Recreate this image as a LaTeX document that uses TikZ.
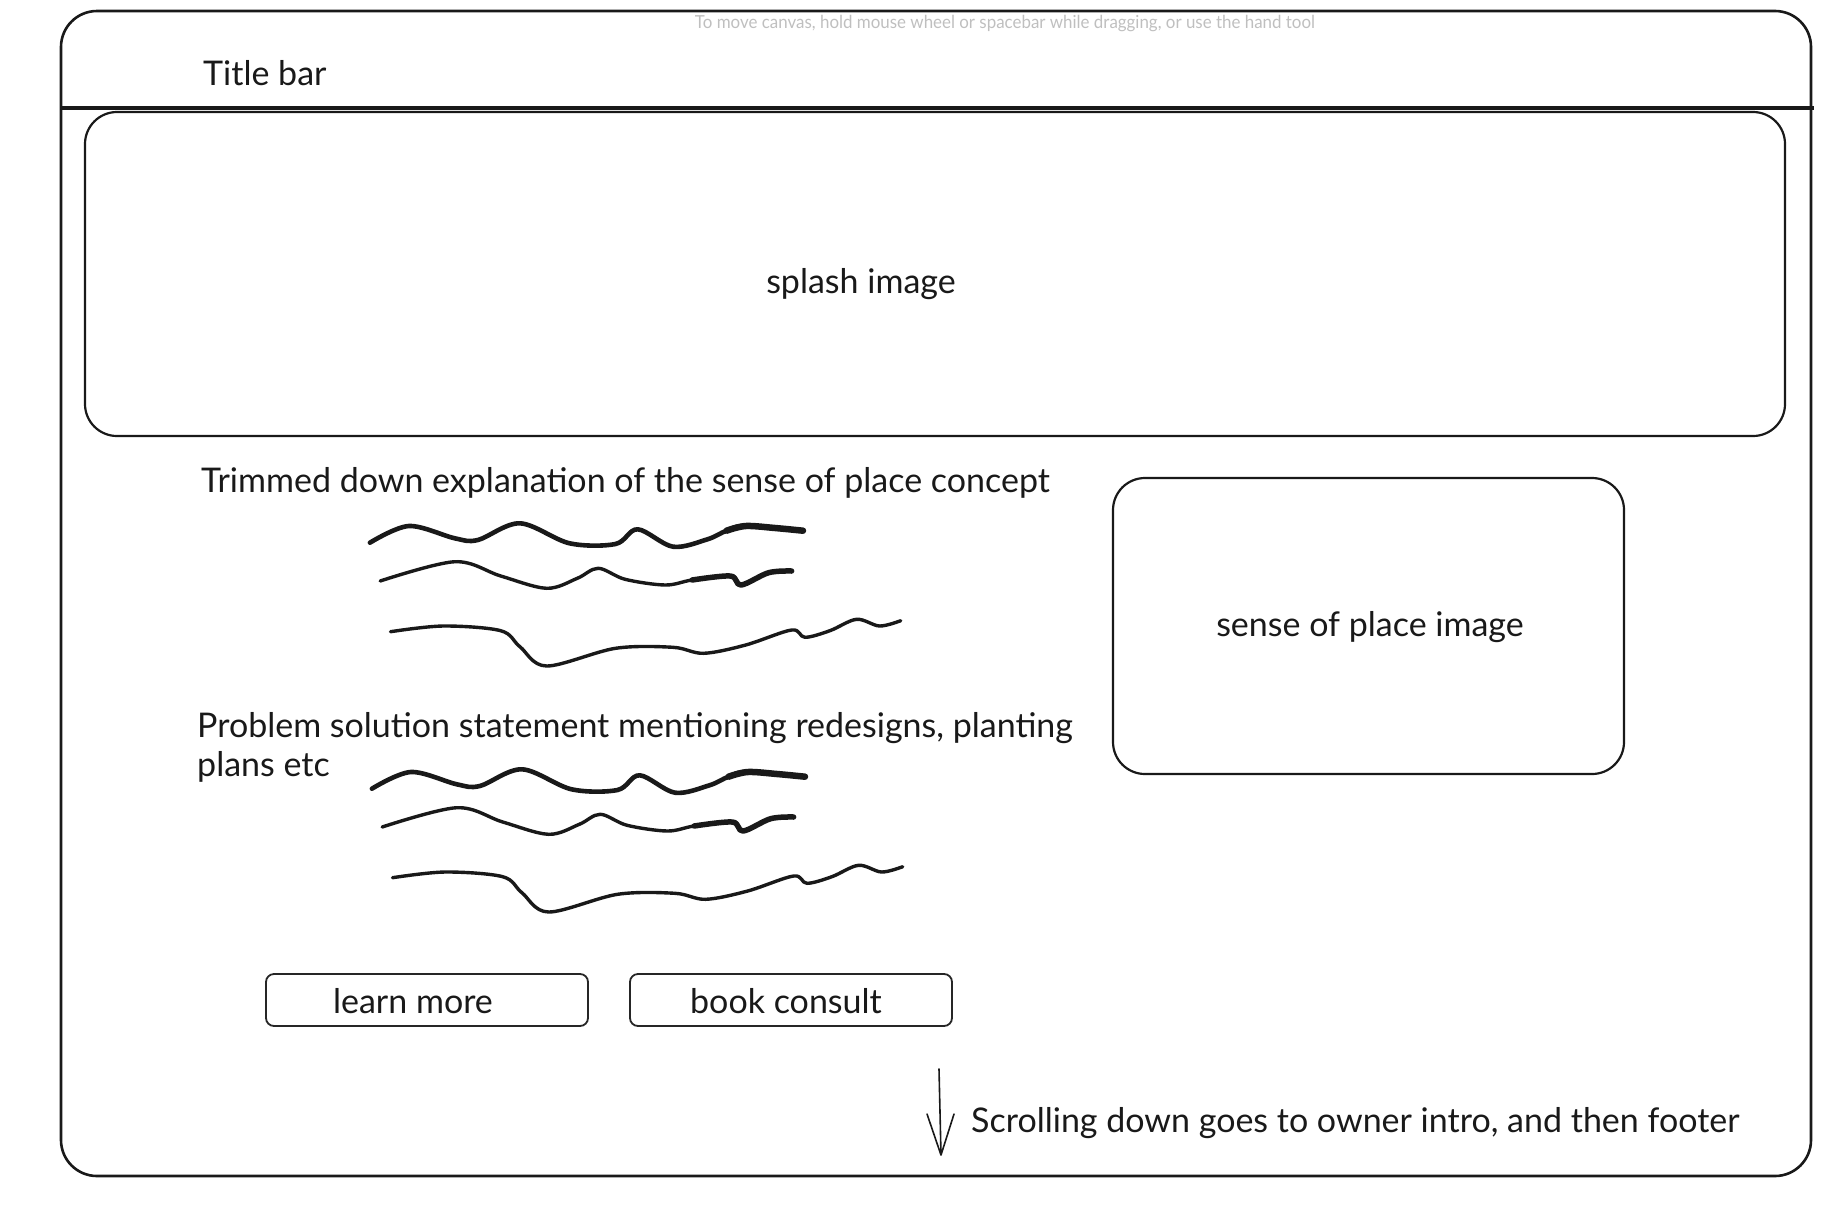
\documentclass[tikz,border=0pt]{standalone}
\usepackage{fontspec}
\setmainfont{Lato}
\usetikzlibrary{arrows.meta}
\begin{document}
\begin{tikzpicture}[x=1pt,y=-1pt,
  frame/.style={draw=black!90, line width=2.6pt, rounded corners=36pt},
  panel/.style={draw=black!90, line width=2.2pt, rounded corners=32pt},
  btn/.style={draw=black!85, line width=1.8pt, rounded corners=8pt},
  hand/.style={font=\fontsize{34}{39}\selectfont, text=black!90, inner sep=0pt},
  scribble/.style={line width=#1, line cap=round, line join=round, black!90},
  hint/.style={font=\fontsize{18}{20}\selectfont, text=black!25, inner sep=0pt}]

% page extent
\useasboundingbox (0,0) rectangle (1847,1205);

% window frame and title bar
\draw[frame] (61,11) rectangle (1811,1176);
\draw[line width=3.4pt, black!90] (61,108) -- (1814,108);
\node[hint] (hint) at (1005,24) {\scalebox{0.94}[1]{To move canvas, hold mouse wheel or spacebar while dragging, or use the hand tool}};
\node[hand, anchor=west] (title) at (203,73) {Title bar};

% splash image
\draw[panel] (85,112) rectangle (1785,436);
\node[hand] (splash) at (861,284) {splash image};

% concept explanation
\node[hand, anchor=west] (concept) at (201,483) {Trimmed down explanation of the sense of place concept};

\newcommand{\scribbleblock}{%
  \draw[scribble=4.6pt] plot[smooth, tension=0.55] coordinates {
    (369.9,542.7) (408.9,526) (454.8,538.3) (477.8,540) (519.9,523.3)
    (569.6,543.3) (615.5,544) (637.7,529.3) (673,546.7) (707.4,539.3)
    (726.5,530.7) (745.7,526) (803,530.7)};
  \draw[scribble=6.5pt] plot[smooth, tension=0.55] coordinates {
    (726.5,530.7) (745.7,526) (775,528) (803,530.7)};
  \draw[scribble=3.4pt] plot[smooth, tension=0.55] coordinates {
    (380.2,581) (454.8,561.7) (500.7,576) (546.7,588.3) (577.3,578.3)
    (598.3,568.3) (625.1,579.3) (665.3,585) (692.1,580) (730.4,576)
    (741.1,585) (768.6,572.7) (791.6,571)};
  \draw[scribble=5.5pt] plot[smooth, tension=0.55] coordinates {
    (692.1,580) (730.4,576) (741.1,585) (768.6,572.7) (791.6,571)};
  \draw[scribble=3.4pt] plot[smooth, tension=0.55] coordinates {
    (390.5,631.7) (443.3,626) (500.7,630.7) (519.9,646.7) (546.7,666)
    (615.5,648.3) (673,647.3) (703.6,653.3) (745.7,645) (791.6,630)
    (805,637.3) (829.9,630.7) (856.6,619.3) (879.6,626) (900.7,620.7)};
}
\scribbleblock

% problem / solution statement
\node[hand, anchor=west, align=left] (problem) at (197,747.5)
  {Problem solution statement mentioning redesigns, planting\\plans etc};
\begin{scope}[shift={(2,246)}]
  \scribbleblock
\end{scope}

% sense of place image
\draw[panel] (1113,478) rectangle (1624,774);
\node[hand] (sense) at (1370,627) {sense of place image};

% call-to-action buttons
\node[btn, minimum width=322pt, minimum height=52pt, inner sep=0pt] (learn) at (427,1000) {};
\node[hand] at (413,1001) {learn more};
\node[btn, minimum width=322pt, minimum height=52pt, inner sep=0pt] (book) at (791,1000) {};
\node[hand] at (786,1001) {book consult};

% scroll hint
\coordinate (atop) at (939,1069);
\coordinate (atip) at (941,1155);
\draw[line width=1.6pt, black!90, line cap=round, line join=round]
  (atop) -- (atip) (927,1114) -- (atip) -- (954,1114);
\node[hand, anchor=west] (scroll) at (971,1123) {Scrolling down goes to owner intro, and then footer};
\end{tikzpicture}
\end{document}
